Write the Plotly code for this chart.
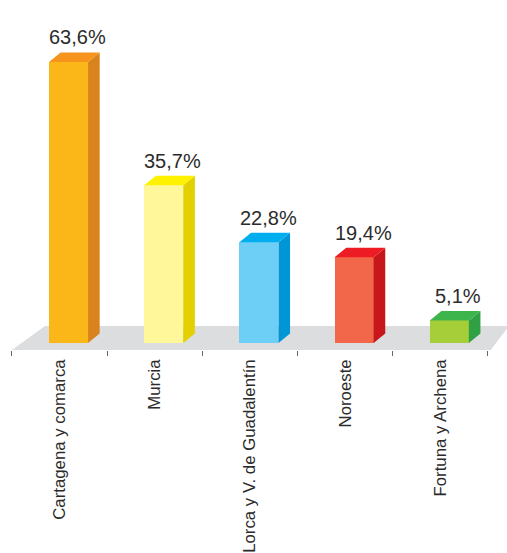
import plotly.graph_objects as go

categories = ["Cartagena y comarca", "Murcia", "Lorca y V. de Guadalentín", "Noroeste", "Fortuna y Archena"]
values = [63.6, 35.7, 22.8, 19.4, 5.1]
value_labels = ["63,6%", "35,7%", "22,8%", "19,4%", "5,1%"]
front_colors = ["#FBB617", "#FFF799", "#6DCFF6", "#F26649", "#A6CE39"]
side_colors = ["#D9831C", "#E2D000", "#0096D6", "#C8161D", "#2FA043"]
top_colors = ["#F7941D", "#FFF200", "#00AEEF", "#ED1C24", "#3DB54A"]

# geometry (data units)
OFF = -0.111
W = 0.41
DX = 0.122
DY = 2.15

fig = go.Figure()

for i, v in enumerate(values):
    x0 = i + OFF
    x1 = x0 + W
    # side face
    fig.add_trace(go.Scatter(
        x=[x1, x1 + DX, x1 + DX, x1, x1], y=[0, DY, v + DY, v, 0],
        fill="toself", fillcolor=side_colors[i], mode="lines", line=dict(width=0),
        hoverinfo="skip", showlegend=False))
    # top face
    fig.add_trace(go.Scatter(
        x=[x0, x0 + DX, x1 + DX, x1, x0], y=[v, v + DY, v + DY, v, v],
        fill="toself", fillcolor=top_colors[i], mode="lines", line=dict(width=0),
        hoverinfo="skip", showlegend=False))

fig.add_trace(go.Bar(
    x=list(range(len(categories))), y=values, offset=OFF, width=W,
    marker=dict(color=front_colors, line=dict(width=0)), showlegend=False))

for i, v in enumerate(values):
    fig.add_annotation(x=i + 0.19, y=v + DY, text=value_labels[i], showarrow=False,
                       xanchor="center", yanchor="bottom", yshift=2,
                       font=dict(size=20, color="#2b2b2b", family="Liberation Sans, Arial, sans-serif"))

# floor
fig.add_shape(type="path", xref="x", yref="y", layer="below",
              path="M -0.5,-1.58 L -0.153,3.85 L 4.72,3.85 L 4.53,-1.58 Z",
              fillcolor="#DCDDDE", line=dict(width=0))

fig.update_layout(
    width=507, height=553,
    margin=dict(l=0, r=0, t=0, b=203, autoexpand=False),
    paper_bgcolor="white", plot_bgcolor="white",
    bargap=0,
    font=dict(family="Liberation Sans, Arial, sans-serif", size=17, color="#2b2b2b"),
    xaxis=dict(range=[-0.626, 4.70], tickvals=list(range(len(categories))), ticktext=categories,
               tickangle=-90, ticks="", showgrid=False, zeroline=False, showline=False,
               automargin=False, ticklabelstandoff=5,
               minor=dict(tickvals=[-0.5, 0.5, 1.5, 2.5, 3.5, 4.5], ticks="outside", ticklen=5,
                          tickcolor="#666666", tickwidth=1, showgrid=False),
               tickfont=dict(size=16.8, color="#2b2b2b")),
    yaxis=dict(range=[-1.584, 77.6], visible=False, automargin=False),
)

fig.write_html("out.html", config={"displayModeBar": False},
               post_script="document.body.style.margin='0';document.body.style.overflow='hidden';")
